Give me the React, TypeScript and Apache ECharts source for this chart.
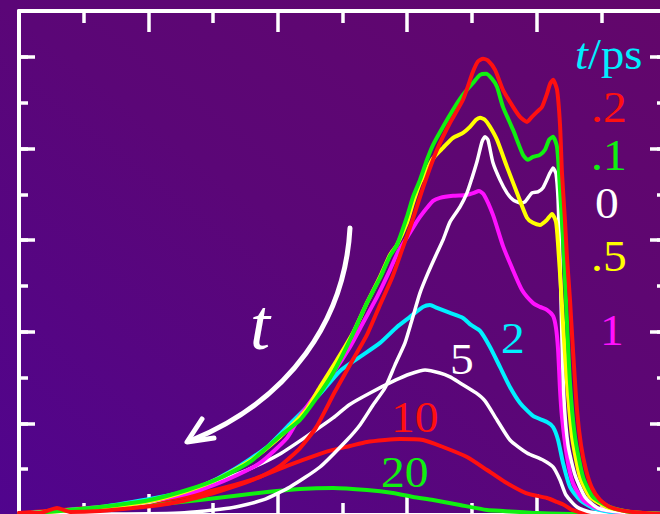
import React, { useEffect, useRef } from "react";
import * as echarts from "echarts";

// Transient spectra, one curve per pump–probe delay; [x, intensity] in axis units.
const delay02: number[][] = [[0,0.022],[0.162,0.022],[0.294,0.076],[0.394,0.033],[0.626,0.044],[0.881,0.076],[1.144,0.12],[1.399,0.196],[1.654,0.306],[1.862,0.415],[2.017,0.535],[2.172,0.731],[2.295,0.953],[2.442,1.347],[2.581,1.696],[2.689,1.965],[2.79,2.293],[2.883,2.588],[2.96,2.893],[3.037,3.199],[3.122,3.57],[3.23,3.985],[3.331,4.28],[3.431,4.531],[3.508,4.836],[3.547,4.95],[3.586,4.98],[3.624,4.96],[3.679,4.858],[3.74,4.64],[3.818,4.454],[3.872,4.345],[3.926,4.29],[3.964,4.345],[4.003,4.399],[4.042,4.454],[4.08,4.596],[4.104,4.705],[4.127,4.749],[4.158,4.64],[4.181,4.258],[4.196,3.734],[4.219,3.221],[4.235,2.806],[4.258,2.35],[4.281,1.801],[4.312,1.146],[4.343,0.764],[4.382,0.491],[4.428,0.295],[4.49,0.164],[4.567,0.087],[4.683,0.044],[4.838,0.022],[5,0.011]];
const delay01: number[][] = [[0,0.011],[0.317,0.044],[0.626,0.087],[1.012,0.164],[1.298,0.273],[1.553,0.404],[1.785,0.579],[2.017,0.862],[2.172,1.037],[2.311,1.299],[2.427,1.55],[2.558,1.91],[2.689,2.314],[2.79,2.587],[2.867,2.828],[2.921,2.948],[2.998,3.253],[3.045,3.472],[3.099,3.657],[3.153,3.876],[3.2,4.039],[3.277,4.236],[3.354,4.421],[3.408,4.541],[3.462,4.64],[3.516,4.727],[3.563,4.803],[3.609,4.814],[3.655,4.76],[3.694,4.672],[3.74,4.454],[3.818,4.203],[3.895,3.93],[3.933,3.876],[3.972,3.908],[4.026,3.93],[4.065,3.985],[4.096,4.094],[4.127,4.127],[4.158,4.017],[4.181,3.548],[4.204,3.002],[4.227,2.347],[4.258,1.441],[4.297,0.852],[4.359,0.415],[4.436,0.197],[4.567,0.087],[4.722,0.033],[5,0.011]];
const delay0: number[][] = [[0,0.011],[0.626,0.011],[1.244,0.022],[1.631,0.076],[1.886,0.164],[2.094,0.306],[2.326,0.524],[2.535,0.819],[2.635,0.983],[2.736,1.201],[2.828,1.386],[2.906,1.638],[2.983,1.878],[3.037,2.129],[3.099,2.424],[3.161,2.642],[3.223,2.838],[3.277,3.002],[3.331,3.199],[3.408,3.362],[3.462,3.515],[3.501,3.679],[3.539,3.854],[3.578,4.072],[3.601,4.127],[3.624,4.094],[3.663,3.843],[3.717,3.657],[3.771,3.515],[3.818,3.439],[3.872,3.406],[3.91,3.417],[3.964,3.515],[4.01,3.526],[4.049,3.57],[4.104,3.734],[4.127,3.788],[4.15,3.723],[4.166,3.439],[4.181,2.784],[4.196,1.91],[4.212,1.255],[4.243,0.764],[4.297,0.437],[4.374,0.197],[4.474,0.076],[4.645,0.033],[5,0.011]];
const delay05: number[][] = [[0,0.011],[0.626,0.076],[1.012,0.153],[1.298,0.262],[1.553,0.404],[1.785,0.59],[2.017,0.852],[2.172,1.07],[2.226,1.157],[2.326,1.397],[2.457,1.692],[2.581,1.987],[2.689,2.314],[2.79,2.598],[2.867,2.838],[2.921,2.948],[2.998,3.188],[3.045,3.406],[3.099,3.624],[3.153,3.766],[3.192,3.876],[3.23,3.941],[3.277,4.007],[3.354,4.116],[3.431,4.17],[3.485,4.236],[3.532,4.312],[3.563,4.334],[3.601,4.312],[3.64,4.236],[3.694,4.094],[3.771,3.799],[3.849,3.515],[3.926,3.242],[3.972,3.188],[4.026,3.166],[4.08,3.221],[4.119,3.286],[4.15,3.199],[4.166,2.948],[4.189,2.456],[4.212,1.91],[4.235,1.441],[4.274,0.852],[4.335,0.415],[4.413,0.197],[4.544,0.087],[4.722,0.033],[5,0.011]];
const delay1: number[][] = [[0,0.011],[0.626,0.076],[1.144,0.186],[1.399,0.273],[1.654,0.415],[1.862,0.568],[2.071,0.841],[2.172,1.081],[2.303,1.332],[2.427,1.55],[2.558,1.834],[2.658,2.096],[2.767,2.38],[2.867,2.675],[2.929,2.871],[3.006,3.046],[3.083,3.221],[3.153,3.352],[3.2,3.428],[3.253,3.461],[3.354,3.483],[3.462,3.493],[3.516,3.515],[3.555,3.537],[3.594,3.493],[3.663,3.275],[3.74,2.937],[3.81,2.697],[3.887,2.456],[3.972,2.314],[4.026,2.271],[4.08,2.238],[4.127,2.172],[4.15,2.041],[4.166,1.801],[4.181,1.365],[4.196,1.07],[4.235,0.633],[4.281,0.349],[4.359,0.164],[4.467,0.076],[4.645,0.033],[5,0.011]];
const delay2: number[][] = [[0,0.011],[0.626,0.087],[1.012,0.175],[1.244,0.24],[1.399,0.306],[1.654,0.491],[1.917,0.742],[2.117,1.026],[2.326,1.321],[2.481,1.572],[2.635,1.725],[2.79,1.878],[2.921,2.052],[3.022,2.162],[3.122,2.271],[3.176,2.293],[3.23,2.26],[3.331,2.205],[3.431,2.151],[3.493,2.074],[3.563,2.009],[3.64,1.834],[3.717,1.616],[3.794,1.397],[3.872,1.223],[3.972,1.081],[4.08,1.015],[4.127,0.961],[4.166,0.819],[4.204,0.568],[4.258,0.306],[4.335,0.164],[4.436,0.076],[4.567,0.033],[5,0.011]];
const delay5: number[][] = [[0,0.011],[0.626,0.066],[1.012,0.142],[1.244,0.229],[1.499,0.349],[1.762,0.491],[2.017,0.666],[2.272,0.906],[2.427,1.059],[2.55,1.201],[2.713,1.332],[2.913,1.474],[3.022,1.539],[3.138,1.583],[3.253,1.55],[3.331,1.507],[3.408,1.441],[3.532,1.332],[3.601,1.245],[3.694,1.037],[3.794,0.819],[3.926,0.677],[4.049,0.6],[4.127,0.524],[4.181,0.382],[4.227,0.218],[4.312,0.087],[4.413,0.033],[4.645,0.011],[5,0.011]];
const delay10: number[][] = [[0,0.022],[0.626,0.087],[1.012,0.142],[1.345,0.218],[1.607,0.306],[1.839,0.404],[2.071,0.535],[2.326,0.666],[2.427,0.71],[2.558,0.753],[2.689,0.797],[2.828,0.819],[2.944,0.83],[3.122,0.819],[3.277,0.742],[3.462,0.633],[3.617,0.491],[3.756,0.36],[3.918,0.24],[4.08,0.186],[4.158,0.142],[4.212,0.109],[4.274,0.055],[4.374,0.022],[4.645,0.011],[5,0.011]];
const delay20: number[][] = [[0,0.011],[0.626,0.055],[0.881,0.087],[1.399,0.164],[1.917,0.251],[2.172,0.284],[2.427,0.295],[2.689,0.273],[2.89,0.24],[3.045,0.197],[3.2,0.164],[3.408,0.109],[3.617,0.055],[3.74,0.044],[4.003,0.022],[4.335,0.011],[5,0.011]];

// Delay-time labels (ps) in legend order, with their curve colours.
const delayLabels = [".2", ".1", "0", ".5", "1", "2", "5", "10", "20"];
const delayColors = ["#ff1010", "#10f010", "#ffffff", "#ffff00", "#ff10ff", "#00f0ff", "#ffffff", "#ff1010", "#10f010"];
const delayData = [delay02, delay01, delay0, delay05, delay1, delay2, delay5, delay10, delay20];

// Axis scales (no numbers are printed on the frame).
const X_MIN = 0, X_MAX = 5, X_STEP = 1;
const Y_MIN = 0, Y_MAX = 5.5, Y_STEP = 1, Y_MINOR_STEP = 0.5;

const SERIF = "'Liberation Serif', 'DejaVu Serif', serif";

export default function App() {
  const ref = useRef<HTMLDivElement>(null);

  useEffect(() => {
    if (!ref.current) return;
    const chart = echarts.init(ref.current, undefined, { renderer: "svg" });

    const tickStyle = { color: "#ffffff", width: 3.5 };
    const hidden = { show: false };
    const xAxisBase = (position: string, lineShown: boolean) => ({
      type: "value",
      position,
      min: X_MIN,
      max: X_MAX,
      interval: X_STEP,
      axisLine: { show: lineShown, onZero: false, lineStyle: { color: "#ffffff", width: 4 } },
      axisTick: { show: true, inside: true, length: 21, lineStyle: tickStyle },
      minorTick: { show: true, splitNumber: 2, length: 12, lineStyle: tickStyle },
      axisLabel: hidden,
      splitLine: hidden,
      minorSplitLine: hidden,
    });
    const yAxisBase = (position: string, step: number, len: number, lineShown: boolean) => ({
      type: "value",
      position,
      min: Y_MIN,
      max: Y_MAX,
      interval: step,
      axisLine: { show: lineShown, onZero: false, lineStyle: { color: "#ffffff", width: 4 } },
      axisTick: { show: true, inside: true, length: len, lineStyle: tickStyle },
      axisLabel: hidden,
      splitLine: hidden,
    });

    // draw order: long-delay curves underneath, early ones on top
    const order = [8, 7, 6, 5, 4, 2, 3, 1, 0];
    const series = order.map((i) => ({
      type: "line",
      name: delayLabels[i] + " ps",
      data: delayData[i],
      xAxisIndex: 0,
      yAxisIndex: 0,
      showSymbol: false,
      smooth: 0.2,
      lineStyle: { color: delayColors[i], width: i === 2 || i === 6 ? 3.5 : 4, cap: "round", join: "round" },
      z: 2,
    }));

    // curve tags: [label index, left, vertical centre]
    const tagPlaces: [number, number, number][] = [
      [0, 591, 107], [1, 591, 155], [2, 595, 203], [3, 591, 256],
      [4, 600, 330], [5, 501, 338], [6, 450, 359], [7, 391, 417], [8, 381, 472],
    ];
    const tags = tagPlaces.map(([i, x, y]) => ({
      type: "text",
      x,
      y,
      scaleX: 1.08,
      z: 10,
      style: {
        text: delayLabels[i],
        fill: delayColors[i],
        font: `44px ${SERIF}`,
        textAlign: "left",
        textVerticalAlign: "middle",
      },
    }));

    chart.setOption({
      animation: false,
      backgroundColor: "transparent",
      grid: { left: 19, top: 11, width: 647, height: 504, containLabel: false },
      xAxis: [xAxisBase("bottom", true), xAxisBase("top", true)],
      yAxis: [
        yAxisBase("left", Y_STEP, 16, true),
        yAxisBase("left", Y_MINOR_STEP, 9, false),
        yAxisBase("right", Y_STEP, 16, true),
        yAxisBase("right", Y_MINOR_STEP, 9, false),
      ],
      series,
      graphic: [
        {
          type: "text",
          x: 575,
          y: 54,
          scaleX: 1.06,
          z: 10,
          style: {
            text: "{i|t}/ps",
            fill: "#00eeff",
            font: `44px ${SERIF}`,
            textAlign: "left",
            textVerticalAlign: "middle",
            rich: { i: { fontStyle: "italic", fontFamily: SERIF, fontSize: 44, fill: "#00eeff" } },
          },
        },
        ...tags,
        // time arrow
        {
          type: "bezierCurve",
          z: 10,
          shape: { x1: 350, y1: 228, cpx1: 345, cpy1: 320, cpx2: 290, cpy2: 400, x2: 192, y2: 440 },
          style: { stroke: "#ffffff", lineWidth: 5, fill: "none", lineCap: "round" },
        },
        {
          type: "polyline",
          z: 10,
          shape: { points: [[202, 419], [187, 442], [214, 438]] },
          style: { stroke: "#ffffff", lineWidth: 5, fill: "none", lineCap: "round", lineJoin: "round" },
        },
        {
          type: "text",
          x: 250,
          y: 325,
          z: 10,
          style: {
            text: "t",
            fill: "#ffffff",
            font: `italic 72px ${SERIF}`,
            textAlign: "left",
            textVerticalAlign: "middle",
          },
        },
      ],
    });

    return () => chart.dispose();
  }, []);

  return (
    <div
      ref={ref}
      style={{
        position: "fixed",
        left: 0,
        top: 0,
        width: 690,
        height: 540,
        background: "linear-gradient(to top right, #50048f 0%, #5b0677 50%, #63066a 100%)",
      }}
    />
  );
}
